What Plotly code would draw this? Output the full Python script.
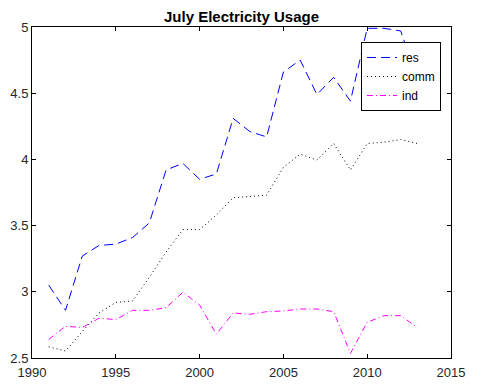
import plotly.graph_objects as go

years = list(range(1991, 2014))
res = [3.05, 2.86, 3.27, 3.35, 3.36, 3.41, 3.52, 3.92, 3.97, 3.85, 3.89, 4.31,
       4.21, 4.17, 4.66, 4.75, 4.49, 4.62, 4.44, 4.99, 4.99, 4.97, 4.60]
comm = [2.585, 2.553, 2.70, 2.84, 2.92, 2.93, 3.11, 3.30, 3.47, 3.47, 3.58, 3.71,
        3.72, 3.73, 3.94, 4.04, 3.995, 4.12, 3.92, 4.12, 4.13, 4.15, 4.12]
ind = [2.64, 2.74, 2.73, 2.80, 2.79, 2.86, 2.86, 2.88, 2.996, 2.90, 2.68, 2.84,
       2.83, 2.85, 2.855, 2.87, 2.87, 2.85, 2.535, 2.77, 2.82, 2.82, 2.73]

x_ticks = [1990, 1995, 2000, 2005, 2010, 2015]
y_ticks = [2.5, 3, 3.5, 4, 4.5, 5]
y_tick_text = ["2.5", "3", "3.5", "4", "4.5", "5"]

font_family = "Liberation Sans, Arial, Helvetica, sans-serif"

# page body has an 8px default margin; figure sized to fill the rest of the window
W, H = 482, 380
L, R, T, B = 24, 39, 19, 30
PW, PH = W - L - R, H - T - B

fig = go.Figure()
fig.add_trace(go.Scatter(x=years, y=res, mode="lines", name="res",
                         line=dict(color="#0000ff", width=1, dash="9px,5px")))
fig.add_trace(go.Scatter(x=years, y=comm, mode="lines", name="comm",
                         line=dict(color="#000000", width=1, dash="1px,3px")))
fig.add_trace(go.Scatter(x=years, y=ind, mode="lines", name="ind",
                         line=dict(color="#ff00ff", width=1, dash="6px,3px,1px,3px")))

axis_common = dict(showgrid=False, zeroline=False, showline=True, linecolor="#000000",
                   linewidth=1, mirror="ticks", ticks="inside", ticklen=4,
                   tickcolor="#000000", tickwidth=1,
                   tickfont=dict(family=font_family, size=13, color="#262626"))

fig.update_xaxes(range=[1990, 2015], tickvals=x_ticks, ticklabelstandoff=2, **axis_common)
fig.update_yaxes(range=[2.5, 5], tickvals=y_ticks, ticktext=y_tick_text, **axis_common)

fig.update_layout(
    width=W, height=H,
    margin=dict(l=L, r=R, t=T, b=B, autoexpand=False),
    paper_bgcolor="#ffffff", plot_bgcolor="#ffffff",
    title=dict(text="<b>July Electricity Usage</b>", x=(L + PW / 2) / W, xanchor="center",
               y=1 - 9 / H, yanchor="middle",
               font=dict(family=font_family, size=15, color="#000000")),
    showlegend=True,
    legend=dict(x=(353 - L) / PW, y=(H - B - 34) / PH, xanchor="left", yanchor="top",
                bgcolor="#ffffff", bordercolor="#000000", borderwidth=1,
                itemwidth=30, tracegroupgap=0,
                font=dict(family=font_family, size=12, color="#000000")),
)

fig.write_html("out.html")
